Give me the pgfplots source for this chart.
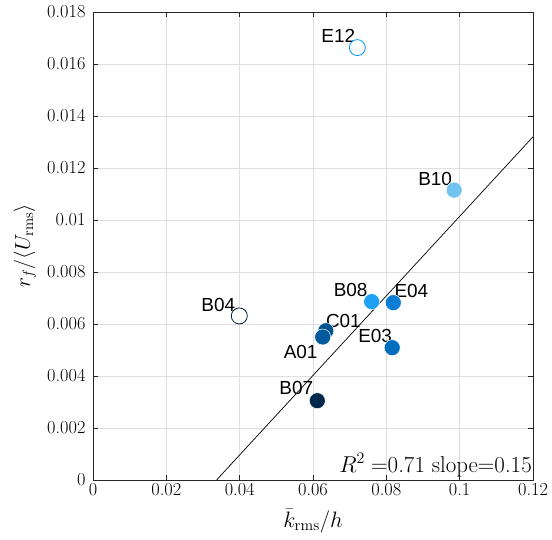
\RequirePackage{fix-cm}
\documentclass[border=0pt]{standalone}
\usepackage{graphicx}
\usepackage{pgfplots}
\pgfplotsset{compat=1.18}
\usepackage{fontspec}
\newfontfamily\lab{Liberation Sans}
\newcommand{\tl}[1]{\mbox{\fontsize{18.4}{18.4}\selectfont #1}}
\definecolor{gridc}{RGB}{223,223,223}
\definecolor{axc}{RGB}{38,38,38}
\definecolor{cE12}{RGB}{0,150,255}
\definecolor{cB10}{RGB}{115,195,240}
\definecolor{cB08}{RGB}{30,160,245}
\definecolor{cE04}{RGB}{10,125,215}
\definecolor{cE03}{RGB}{0,110,190}
\definecolor{cC01}{RGB}{0,85,145}
\definecolor{cA01}{RGB}{0,90,155}
\definecolor{cB07}{RGB}{0,40,75}
\definecolor{cB04}{RGB}{0,30,50}
\tikzset{ptlab/.style={font=\lab\fontsize{19}{19}\selectfont, inner sep=0pt}}
\begin{document}
\begin{tikzpicture}
\begin{axis}[
  scale only axis, width=440bp, height=468bp,
  xmin=0, xmax=0.12, ymin=0, ymax=0.018,
  xtick={0,0.02,0.04,0.06,0.08,0.1,0.12},
  xticklabels={\tl{0},\tl{0.02},\tl{0.04},\tl{0.06},\tl{0.08},\tl{0.1},\tl{0.12}},
  ytick={0,0.002,0.004,0.006,0.008,0.01,0.012,0.014,0.016,0.018},
  yticklabels={\tl{0},\tl{0.002},\tl{0.004},\tl{0.006},\tl{0.008},\tl{0.01},\tl{0.012},\tl{0.014},\tl{0.016},\tl{0.018}},
  xticklabel style={yshift=0bp},
  yticklabel style={xshift=-4bp},
  tick align=inside, major tick length=5bp,
  tick style={axc, line width=0.6bp},
  axis line style={axc, line width=0.6bp},
  grid=major, major grid style={gridc, line width=0.6bp},
  xlabel={\scalebox{1.08}{$\bar{k}_{\rm rms}/h$}},
  ylabel={\scalebox{1.04}{$r_f/\langle U_{\rm rms}\rangle$}},
  label style={font=\fontsize{20.74}{22}\selectfont},
  xlabel style={at={([yshift=-41bp]rel axis cs:0.5,0)}, anchor=center},
  ylabel style={at={([xshift=-68bp]rel axis cs:0,0.5)}, anchor=center},
  clip=false,
]
\addplot[black, line width=0.7bp, no marks] coordinates {(0.0337,0) (0.12,0.0132)};
\addplot[only marks, mark=*, mark size=8bp, mark options={fill=white, draw=cE12, line width=0.8bp}] coordinates {(0.0721,0.01663)};
\addplot[only marks, mark=*, mark size=8bp, mark options={fill=cB10, draw=white, line width=0.5bp}] coordinates {(0.0985,0.01115)};
\addplot[only marks, mark=*, mark size=8bp, mark options={fill=cB08, draw=white, line width=0.5bp}] coordinates {(0.0760,0.00686)};
\addplot[only marks, mark=*, mark size=8bp, mark options={fill=cE04, draw=white, line width=0.5bp}] coordinates {(0.0819,0.00682)};
\addplot[only marks, mark=*, mark size=8bp, mark options={fill=cE03, draw=white, line width=0.5bp}] coordinates {(0.0816,0.00509)};
\addplot[only marks, mark=*, mark size=8bp, mark options={fill=cC01, draw=white, line width=0.5bp}] coordinates {(0.0635,0.00574)};
\addplot[only marks, mark=*, mark size=8bp, mark options={fill=cA01, draw=white, line width=0.5bp}] coordinates {(0.06265,0.00550)};
\addplot[only marks, mark=*, mark size=8bp, mark options={fill=cB07, draw=white, line width=0.5bp}] coordinates {(0.06117,0.00305)};
\addplot[only marks, mark=*, mark size=8bp, mark options={fill=white, draw=cB04, line width=0.8bp}] coordinates {(0.0399,0.00631)};
\node[ptlab, anchor=base east] at ([xshift=-2bp,yshift=5bp]axis cs:0.0721,0.01663) {E12};
\node[ptlab, anchor=base east] at ([xshift=-2bp,yshift=5bp]axis cs:0.0985,0.01115) {B10};
\node[ptlab, anchor=base east] at ([xshift=-4bp,yshift=5bp]axis cs:0.0760,0.00686) {B08};
\node[ptlab, anchor=base west] at ([xshift=1bp,yshift=5bp]axis cs:0.0819,0.00682) {E04};
\node[ptlab, anchor=base east] at ([xshift=0bp,yshift=5bp]axis cs:0.0816,0.00509) {E03};
\node[ptlab, anchor=base west] at ([xshift=0bp,yshift=3bp]axis cs:0.0635,0.00574) {C01};
\node[ptlab, anchor=base east] at ([xshift=-5bp,yshift=-21bp]axis cs:0.06265,0.00550) {A01};
\node[ptlab, anchor=base east] at ([xshift=-4bp,yshift=6bp]axis cs:0.06117,0.00305) {B07};
\node[ptlab, anchor=base east] at ([xshift=-4bp,yshift=4bp]axis cs:0.0399,0.00631) {B04};
\node[anchor=base east, inner sep=0pt, font=\fontsize{23}{23}\selectfont] at ([xshift=-1bp,yshift=8bp]rel axis cs:1,0) {$R^2=$0.71 slope=0.15};
\end{axis}
\pgfresetboundingbox
\path ([shift={(-93bp,-60bp)}]current axis.south west) rectangle ([shift={(19bp,12bp)}]current axis.north east);
\end{tikzpicture}
\end{document}
